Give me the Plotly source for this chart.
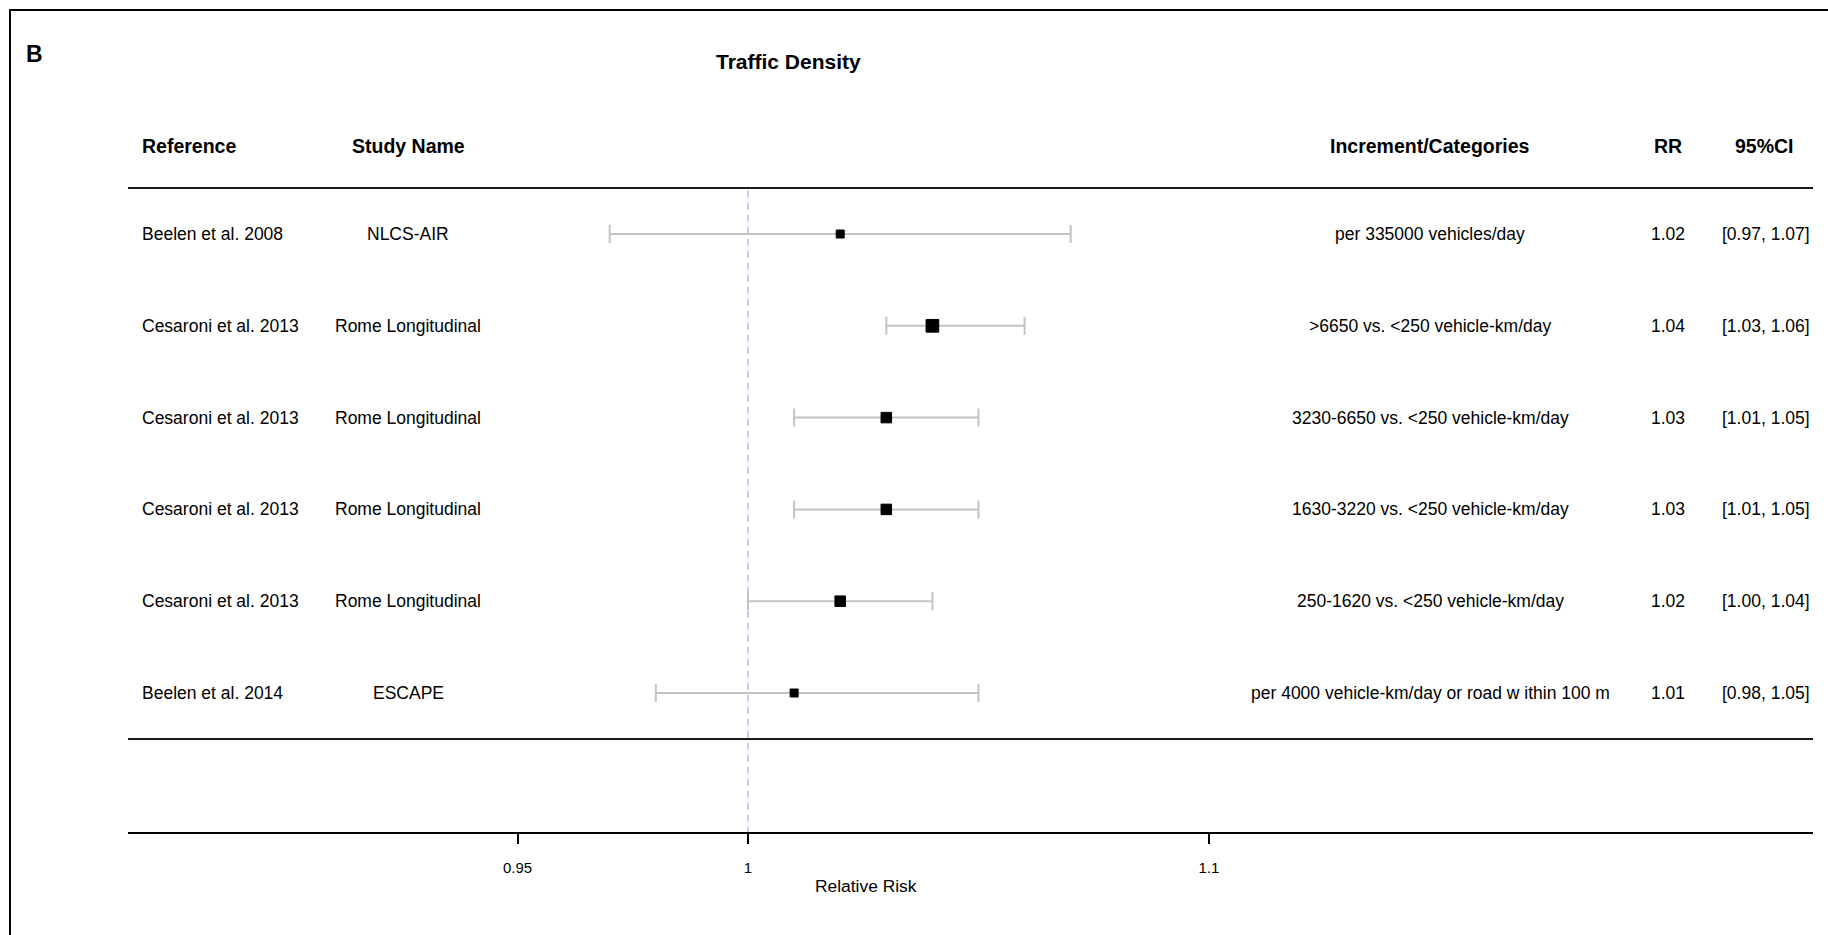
import plotly.graph_objects as go

# ---------------- data ----------------
references = ["Beelen et al. 2008", "Cesaroni et al. 2013", "Cesaroni et al. 2013",
              "Cesaroni et al. 2013", "Cesaroni et al. 2013", "Beelen et al. 2014"]
study_names = ["NLCS-AIR", "Rome Longitudinal", "Rome Longitudinal",
               "Rome Longitudinal", "Rome Longitudinal", "ESCAPE"]
increments = ["per 335000 vehicles/day",
              ">6650 vs. <250 vehicle-km/day",
              "3230-6650 vs. <250 vehicle-km/day",
              "1630-3220 vs. <250 vehicle-km/day",
              "250-1620 vs. <250 vehicle-km/day",
              "per 4000 vehicle-km/day or road w ithin 100 m"]
rr = [1.02, 1.04, 1.03, 1.03, 1.02, 1.01]
ci_low = [0.97, 1.03, 1.01, 1.01, 1.00, 0.98]
ci_high = [1.07, 1.06, 1.05, 1.05, 1.04, 1.05]
tick_values = [0.95, 1, 1.1]
tick_labels = ["0.95", "1", "1.1"]
null_value = 1.0
headers = ["Reference", "Study Name", "Increment/Categories", "RR", "95%CI"]
title_text = "Traffic Density"
panel_label = "B"
x_title = "Relative Risk"

# ---------------- layout helpers ----------------
W, H = 1828, 935
FONT = "Liberation Sans, Arial, sans-serif"
ROW0, STEP = 234.0, 91.8          # pixel y of first row, row spacing
AX_L, AX_R, AX_Y = 128, 1813, 832  # axis extent (px)
X1_PX, PX_PER_UNIT = 748.0, 4610.0


def px(x):
    return x / W


def py(y):
    return 1 - y / H


rows = list(range(1, len(rr) + 1))
box_px = [8, 12.7, 10.5, 10.5, 10.5, 8]   # marker sizes (style)

fig = go.Figure()

# confidence intervals (error bars only)
fig.add_trace(go.Scatter(
    x=rr, y=rows, mode="markers",
    marker=dict(size=1, color="rgba(0,0,0,0)"),
    error_x=dict(type="data", symmetric=False,
                 array=[h - r for h, r in zip(ci_high, rr)],
                 arrayminus=[r - l for r, l in zip(rr, ci_low)],
                 color="#c4c4c4", thickness=2, width=9),
    showlegend=False, hoverinfo="skip",
))
# point estimates on top
fig.add_trace(go.Scatter(
    x=rr, y=rows, mode="markers",
    marker=dict(symbol="square", size=box_px, color="#000000", opacity=1,
                line=dict(width=1, color="#000000")),
    showlegend=False, hoverinfo="skip",
))

shapes = []
# frame (top and left edges visible)
shapes.append(dict(type="rect", xref="paper", yref="paper",
                   x0=px(10), x1=1.02, y0=py(10), y1=-0.02,
                   line=dict(color="black", width=2)))
# rules
for r in (0.5, len(rr) + 0.5):
    shapes.append(dict(type="line", xref="x domain", yref="y",
                       x0=0, x1=1, y0=r, y1=r,
                       line=dict(color="#1a1a1a", width=2)))
# null line
shapes.append(dict(type="line", xref="x", yref="y",
                   x0=null_value, x1=null_value, y0=0.53, y1=1 + (AX_Y - ROW0) / STEP,
                   line=dict(color="#c8c8f6", width=2, dash="7px,5px"), layer="below"))

ann = []


def add_text(text, x, y, xref="paper", yref="paper", size=17.5, bold=False, xanchor="center"):
    ann.append(dict(text=text, x=x, y=y, xref=xref, yref=yref, showarrow=False,
                    xanchor=xanchor, yanchor="middle",
                    font=dict(family=FONT, size=size, color="black",
                              weight="bold" if bold else "normal")))


add_text(panel_label, px(34), py(54), size=23, bold=True)
add_text(title_text, px(788), py(62), size=21, bold=True)

hy = py(146)
add_text(headers[0], px(140), hy, size=19.5, bold=True, xanchor="left")
add_text(headers[1], px(408), hy, size=19.5, bold=True)
add_text(headers[2], px(1430), hy, size=19.5, bold=True)
add_text(headers[3], px(1668), hy, size=19.5, bold=True)
add_text(headers[4], px(1764), hy, size=19.5, bold=True)

for i, r in enumerate(rows):
    add_text(references[i], px(140), r, yref="y", xanchor="left")
    add_text(study_names[i], px(408), r, yref="y")
    add_text(increments[i], px(1430), r, yref="y")
    add_text(f"{rr[i]:.2f}", px(1668), r, yref="y")
    add_text(f"[{ci_low[i]:.2f}, {ci_high[i]:.2f}]", px(1766), r, yref="y")

add_text(x_title, px(865.5), py(886), size=17.4)

fig.update_layout(
    width=W, height=H,
    margin=dict(l=0, r=0, t=0, b=0),
    paper_bgcolor="white", plot_bgcolor="white",
    shapes=shapes, annotations=ann,
    xaxis=dict(domain=[px(AX_L), px(AX_R)],
               range=[1 - (X1_PX - AX_L) / PX_PER_UNIT, 1 + (AX_R - X1_PX) / PX_PER_UNIT],
               tickvals=tick_values, ticktext=tick_labels,
               ticks="outside", ticklen=10, tickwidth=2, tickcolor="black",
               ticklabelstandoff=11,
               showline=True, linewidth=2, linecolor="black",
               showgrid=False, zeroline=False,
               tickfont=dict(family=FONT, size=15, color="black")),
    yaxis=dict(domain=[(H - AX_Y) / H, 1],
               range=[1 + (AX_Y - ROW0) / STEP, 1 - ROW0 / STEP],
               visible=False, showgrid=False, zeroline=False),
)

fig.write_html("out.html")
